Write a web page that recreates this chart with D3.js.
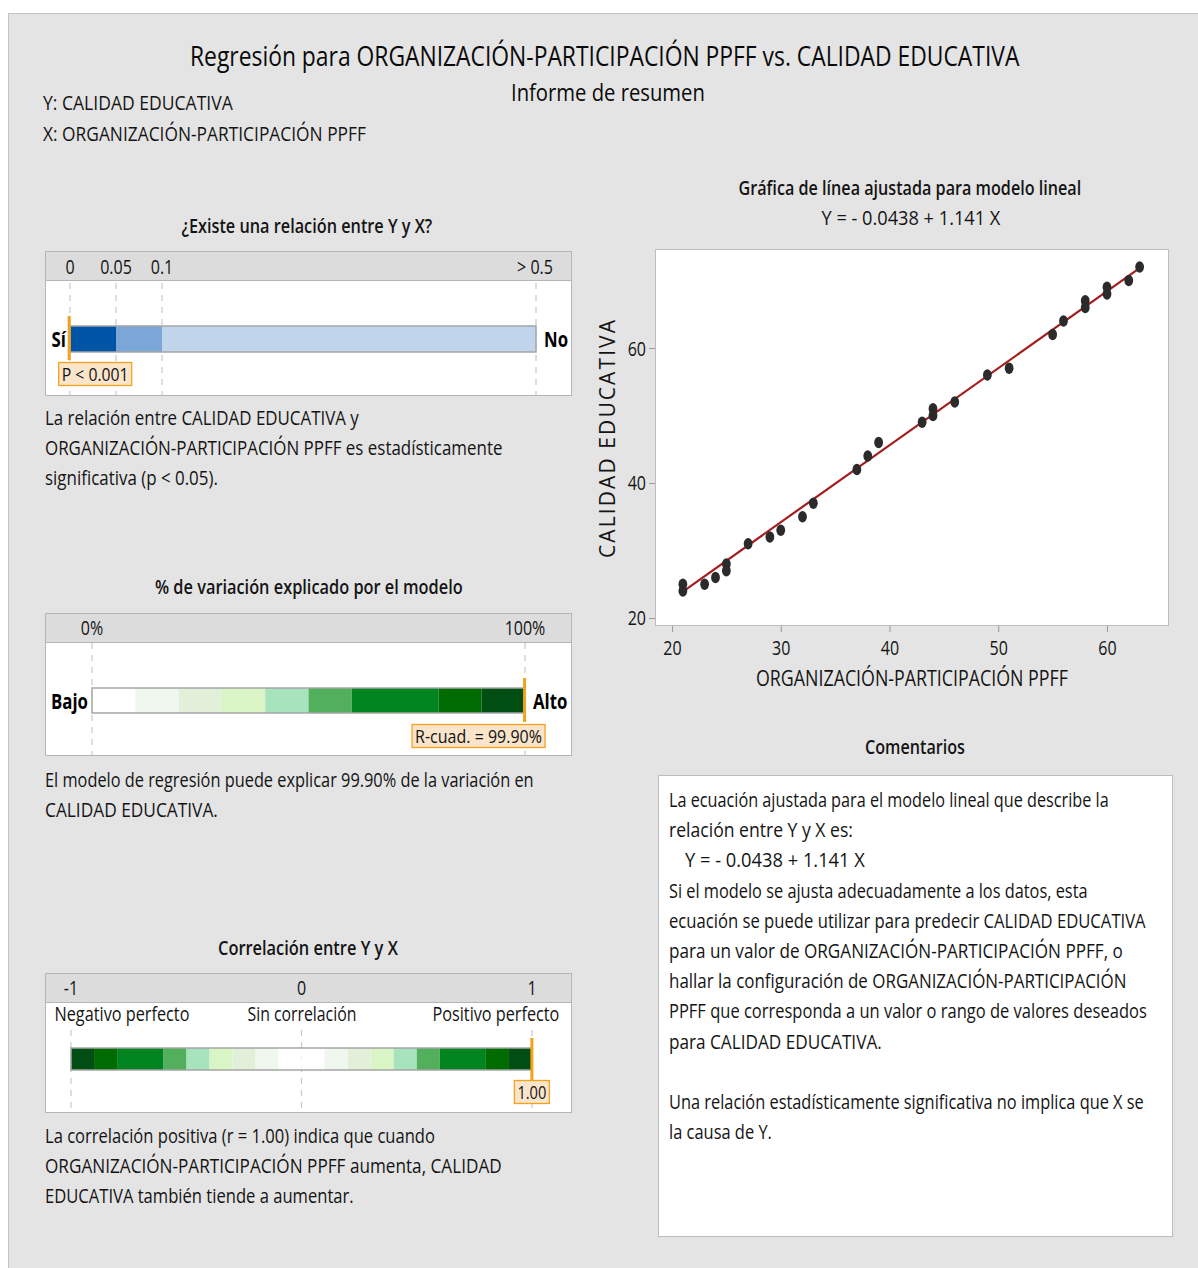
<!DOCTYPE html>
<html>
<head>
<meta charset="utf-8">
<script src="https://cdn.jsdelivr.net/npm/d3@7"></script>
<style>
  body { margin: 0; background: #fff; }
  svg { display: block; }
  text { font-family: "Open Sans", "Noto Sans", sans-serif; fill: #141414; }
</style>
</head>
<body>
<svg id="chart" width="1198" height="1268"></svg>
<script>
// ---- data ----
var xVals = [21, 21, 23, 24, 25, 25, 27, 29, 30, 32, 33, 37, 38, 39, 43, 44, 44, 46, 49, 51, 55, 56, 58, 58, 60, 60, 62, 63];
var yVals = [25, 24, 25, 26, 28, 27, 31, 32, 33, 35, 37, 42, 44, 46, 49, 51, 50, 52, 56, 57, 62, 64, 67, 66, 69, 68, 70, 72];
var fitB0 = -0.0438, fitB1 = 1.141;
var xTicks = [20, 30, 40, 50, 60];
var yTicks = [20, 40, 60];

var pValue = 0.0002;
var pTicks = [0, 0.05, 0.1, 0.5];
var pTickLabels = ["0", "0.05", "0.1", "> 0.5"];
var pBins = [0, 0.05, 0.1, 0.5];
var pColors = ["#0054a6", "#7ba6d8", "#c0d4ec"];

var rSq = 99.90;
var rsqTicks = [0, 100];
var rsqTickLabels = ["0%", "100%"];
var rsqBins = [0, 10, 20, 30, 40, 50, 60, 80, 90, 100];

var rCorr = 0.9995;
var corrTicks = [-1, 0, 1];
var corrTickLabels = ["-1", "0", "1"];
var corrBins = [0, 0.1, 0.2, 0.3, 0.4, 0.5, 0.6, 0.8, 0.9, 1];
var corrLabels = ["Negativo perfecto", "Sin correlación", "Positivo perfecto"];

var greens = ["#ffffff", "#f0f7ee", "#e2f0da", "#d9f5c6", "#a7e3bc", "#52af5b", "#00841f", "#006b00", "#004e13"];

var svg = d3.select("#chart");
var K = 0.8;            // the report is squeezed horizontally
var orange = "#f5a21b";

// text helper: squeeze horizontally to width w (or natural*K)
function txt(g, s, x, y, o) {
  o = o || {};
  var t = g.append("text").attr("x", 0).attr("y", 0).text(s)
    .style("font-size", (o.size || 20) + "px");
  if (o.bold) t.style("font-weight", o.bold);
  if (o.fill) t.style("fill", o.fill);
  var n = t.node().getComputedTextLength();
  var w = o.w || n * (o.k || K);
  var x0 = x;
  if (o.anchor == "middle") x0 = x - w / 2;
  if (o.anchor == "end") x0 = x - w;
  t.attr("transform", "translate(" + x0 + "," + y + ") scale(" + (w / n) + ",1)");
  return t;
}

// background panel
svg.append("rect").attr("x", 8.5).attr("y", 13.5).attr("width", 1200).attr("height", 1260)
  .attr("fill", "#e4e4e4").attr("stroke", "#c4c4c4");

// header
txt(svg, "Regresión para  ORGANIZACIÓN-PARTICIPACIÓN PPFF vs. CALIDAD EDUCATIVA", 605, 66, {size: 27, w: 830, anchor: "middle", fill: "#0a0a0a"});
txt(svg, "Informe de resumen", 608, 101, {size: 24, w: 194, anchor: "middle", fill: "#0a0a0a"});
txt(svg, "Y: CALIDAD EDUCATIVA", 43, 110, {size: 20, w: 190});
txt(svg, "X: ORGANIZACIÓN-PARTICIPACIÓN PPFF", 43, 141, {size: 20, w: 323});

// ---- generic meter box ----
function meterBox(top, h) {
  var g = svg.append("g");
  g.append("rect").attr("x", 45.5).attr("y", top + 0.5).attr("width", 526).attr("height", h)
    .attr("fill", "#fff").attr("stroke", "#b5b5b5");
  g.append("rect").attr("x", 46).attr("y", top + 1).attr("width", 525).attr("height", 28)
    .attr("fill", "#dcdcdc");
  g.append("line").attr("x1", 46).attr("x2", 571).attr("y1", top + 29.5).attr("y2", top + 29.5)
    .attr("stroke", "#b5b5b5");
  return g;
}
function dashed(g, x, y1, y2) {
  g.append("line").attr("x1", x).attr("x2", x).attr("y1", y1).attr("y2", y2)
    .attr("stroke", "#c8c8c8").attr("stroke-width", 1.2).attr("stroke-dasharray", "6,6");
}
function bar(g, scale, bins, colors, y, h, mirror) {
  var segs = [];
  for (var i = 0; i < bins.length - 1; i++) {
    segs.push({a: bins[i], b: bins[i + 1], c: colors[i]});
    if (mirror) segs.push({a: -bins[i + 1], b: -bins[i], c: colors[i]});
  }
  g.selectAll(null).data(segs).enter().append("rect")
    .attr("x", function(d) { return scale(d.a); })
    .attr("width", function(d) { return scale(d.b) - scale(d.a); })
    .attr("y", y).attr("height", h)
    .attr("fill", function(d) { return d.c; });
  var x0 = scale(mirror ? -bins[bins.length - 1] : bins[0]), x1 = scale(bins[bins.length - 1]);
  g.append("rect").attr("x", x0).attr("y", y).attr("width", x1 - x0).attr("height", h)
    .attr("fill", "none").attr("stroke", "#a5a5a5").attr("stroke-width", 1.5);
}
function marker(g, x, y, h, label, boxX, boxY, boxW) {
  g.append("rect").attr("x", x - 1.5).attr("y", y).attr("width", 3).attr("height", h).attr("fill", orange);
  g.append("rect").attr("x", boxX + 0.5).attr("y", boxY + 0.5).attr("width", boxW).attr("height", 23)
    .attr("fill", "#fae5cb").attr("stroke", orange).attr("stroke-width", 1.3);
  txt(g, label, boxX + boxW / 2 + 0.5, boxY + 19, {size: 19, anchor: "middle", w: boxW - 6});
}

// ---- section 1: p-value ----
txt(svg, "¿Existe una relación entre Y y X?", 307, 233, {size: 20, bold: 600, w: 251, anchor: "middle"});
var g1 = meterBox(251, 144);
var pScale = d3.scaleLinear().domain(pTicks).range([70, 116, 162, 536]);
pTicks.forEach(function(t, i) {
  dashed(g1, pScale(t), 283, 395);
  txt(g1, pTickLabels[i], pScale(t) - (i == 3 ? 1 : 0), 274, {size: 20, anchor: "middle"});
});
bar(g1, pScale, pBins, pColors, 326, 26, false);
txt(g1, "Sí", 66, 347, {size: 21, bold: 700, anchor: "end", fill: "#000"});
txt(g1, "No", 544, 347, {size: 21, bold: 700, fill: "#000"});
marker(g1, pScale(pValue) - 1, 316, 44, "P < 0.001", pScale(pValue) - 12, 362, 73);

txt(svg, "La relación entre CALIDAD EDUCATIVA y", 45, 425, {w: 314});
txt(svg, "ORGANIZACIÓN-PARTICIPACIÓN PPFF es estadísticamente", 45, 455, {w: 458});
txt(svg, "significativa (p < 0.05).", 45, 485, {w: 173});

// ---- section 2: R-squared ----
txt(svg, "% de variación explicado por el modelo", 309, 594, {size: 20, bold: 600, w: 308, anchor: "middle"});
var g2 = meterBox(613, 142);
var rsqScale = d3.scaleLinear().domain([0, 100]).range([92, 525]);
rsqTicks.forEach(function(t, i) {
  dashed(g2, rsqScale(t), 643, 755);
  txt(g2, rsqTickLabels[i], rsqScale(t), 635, {size: 20, anchor: "middle"});
});
bar(g2, rsqScale, rsqBins, greens, 688, 25, false);
txt(g2, "Bajo", 88, 709, {size: 21, bold: 700, anchor: "end", fill: "#000"});
txt(g2, "Alto", 533, 709, {size: 21, bold: 700, fill: "#000"});
marker(g2, rsqScale(rSq), 678, 44, "R-cuad. = " + rSq.toFixed(2) + "%", rsqScale(rSq) - 113, 724, 133);

txt(svg, "El modelo de regresión puede explicar 99.90% de la variación en", 45, 787, {w: 489});
txt(svg, "CALIDAD EDUCATIVA.", 45, 817, {w: 173});

// ---- section 3: correlation ----
txt(svg, "Correlación entre Y y X", 308, 955, {size: 20, bold: 600, w: 180, anchor: "middle"});
var g3 = meterBox(973, 139);
var corrScale = d3.scaleLinear().domain([-1, 1]).range([71, 532]);
corrTicks.forEach(function(t, i) {
  dashed(g3, corrScale(t), 1030, 1112);
  txt(g3, corrTickLabels[i], corrScale(t), 995, {size: 20, anchor: "middle"});
});
var corrLabX = [122, 302, 496], corrLabW = [135, 109, 127];
corrLabels.forEach(function(s, i) {
  txt(g3, s, corrLabX[i], 1021, {size: 20, anchor: "middle", w: corrLabW[i]});
});
bar(g3, corrScale, corrBins, greens, 1048, 22, true);
marker(g3, corrScale(rCorr), 1038, 44, rCorr.toFixed(2), corrScale(rCorr) - 18, 1080, 35);

txt(svg, "La correlación positiva (r = 1.00) indica que cuando", 45, 1143, {w: 390});
txt(svg, "ORGANIZACIÓN-PARTICIPACIÓN PPFF aumenta, CALIDAD", 45, 1173, {w: 457});
txt(svg, "EDUCATIVA también tiende a aumentar.", 45, 1203, {w: 309});

// ---- fitted line plot ----
txt(svg, "Gráfica de línea ajustada para modelo lineal", 910, 195, {size: 20, bold: 600, w: 343, anchor: "middle"});
txt(svg, "Y = - 0.0438 + 1.141 X", 911, 225, {size: 20, w: 179, anchor: "middle"});

var x = d3.scaleLinear().domain([18.437, 65.61]).range([655, 1168]);
var y = d3.scaleLinear().domain([18.96, 74.67]).range([625, 249]);

svg.append("rect").attr("x", 655.5).attr("y", 249.5).attr("width", 513).attr("height", 376)
  .attr("fill", "#fff").attr("stroke", "#bdbdbd");

var xAxis = svg.append("g").attr("transform", "translate(0,626)")
  .call(d3.axisBottom(x).tickValues(xTicks).tickSize(6).tickSizeOuter(0).tickPadding(4));
var yAxis = svg.append("g").attr("transform", "translate(655,0)")
  .call(d3.axisLeft(y).tickValues(yTicks).tickSize(6).tickSizeOuter(0).tickPadding(3));
[xAxis, yAxis].forEach(function(a) {
  a.select(".domain").remove();
  a.selectAll(".tick line").attr("stroke", "#9a9a9a");
  a.selectAll(".tick text").style("font-size", "20px").style("font-family", null).attr("fill", null)
    .each(function() {
      var t = d3.select(this);
      t.attr("textLength", this.getComputedTextLength() * K).attr("lengthAdjust", "spacingAndGlyphs");
    });
});
xAxis.selectAll(".tick text").attr("dy", "0.95em");
yAxis.selectAll(".tick text").attr("dy", "0.35em");

txt(svg, "ORGANIZACIÓN-PARTICIPACIÓN PPFF", 912, 686, {size: 21, w: 312, anchor: "middle"});
svg.append("text").attr("transform", "translate(615,439) rotate(-90)")
  .attr("text-anchor", "middle").style("font-size", "21px")
  .attr("textLength", 238).attr("lengthAdjust", "spacing")
  .text("CALIDAD EDUCATIVA");

var xr = d3.extent(xVals);
svg.append("line")
  .attr("x1", x(xr[0])).attr("y1", y(fitB0 + fitB1 * xr[0]))
  .attr("x2", x(xr[1])).attr("y2", y(fitB0 + fitB1 * xr[1]))
  .attr("stroke", "#a61c1c").attr("stroke-width", 2.2);

svg.selectAll(null).data(xVals).enter().append("ellipse")
  .attr("cx", function(d) { return x(d); })
  .attr("cy", function(d, i) { return y(yVals[i]); })
  .attr("rx", 4.4).attr("ry", 5.7)
  .attr("fill", "#2b2b2b");

// ---- comments ----
txt(svg, "Comentarios", 915, 754, {size: 20, bold: 600, w: 100, anchor: "middle"});
svg.append("rect").attr("x", 658.5).attr("y", 775.5).attr("width", 514).attr("height", 461)
  .attr("fill", "#fff").attr("stroke", "#bdbdbd");
var comments = [
  ["La ecuación ajustada para el modelo lineal que describe la", 440],
  ["relación entre Y y X es:", 184],
  ["   Y = - 0.0438 + 1.141 X", 180],
  ["Si el modelo se ajusta adecuadamente a los datos, esta", 419],
  ["ecuación se puede utilizar para predecir CALIDAD EDUCATIVA", 477],
  ["para un valor de ORGANIZACIÓN-PARTICIPACIÓN PPFF, o", 454],
  ["hallar la configuración de ORGANIZACIÓN-PARTICIPACIÓN", 458],
  ["PPFF que corresponda a un valor o rango de valores deseados", 478],
  ["para CALIDAD EDUCATIVA.", 213],
  ["", 0],
  ["Una relación estadísticamente significativa no implica que X se", 475],
  ["la causa de Y.", 103]
];
comments.forEach(function(c, i) {
  if (!c[0]) return;
  var indent = c[0].indexOf("   ") == 0;
  txt(svg, c[0].trim(), indent ? 685 : 669, 807 + i * 30.2, {w: c[1]});
});
</script>
</body>
</html>
